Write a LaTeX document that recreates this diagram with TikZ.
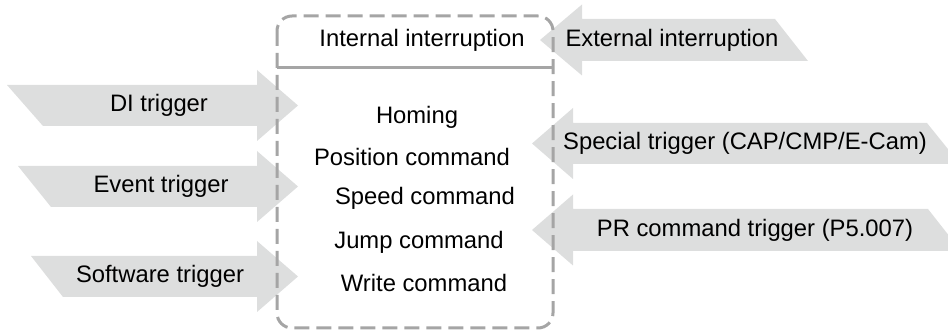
\documentclass[tikz,border=0pt]{standalone}
\usepackage{fontspec}
\setmainfont{Liberation Sans}
\usepackage{tikz}
\usetikzlibrary{positioning}

\definecolor{blockgray}{RGB}{221,222,222}
\definecolor{framegray}{RGB}{165,165,165}

\begin{document}
\begin{tikzpicture}[
  x=0.5pt, y=-0.5pt,
  font=\fontsize{11.9}{14}\selectfont,
  label/.style={inner sep=0pt, anchor=center},
  block/.style={fill=blockgray},
  frame/.style={draw=framegray, line width=1.5pt, dash pattern=on 7.5pt off 3.5pt, rounded corners=7.5pt},
  divider/.style={draw=framegray, line width=1.5pt}
]
\useasboundingbox (0,0) rectangle (948,331);
\clip (0,0) rectangle (948,331);

% triggers coming in from the left
\fill[block] (7,85) -- (257,85) -- (257,70) -- (298,105.5) -- (257,141) -- (257,126) -- (43,126) -- cycle;
\fill[block] (18,166) -- (257,166) -- (257,151) -- (298,186.5) -- (257,222) -- (257,207) -- (51,207) -- cycle;
\fill[block] (31,256) -- (257,256) -- (257,241) -- (298,276.5) -- (257,312) -- (257,297) -- (63,297) -- cycle;
\node[label] (di) at (159,105.5) {DI trigger};
\node[label] (event) at (161,186.5) {Event trigger};
\node[label] (software) at (160,276.5) {Software trigger};

% triggers coming in from the right
\fill[block] (775,19) -- (582,19) -- (582,4.5) -- (540,40) -- (582,75.5) -- (582,61) -- (808,61) -- cycle;
\fill[block] (927,123) -- (573,123) -- (573,108) -- (532,143.5) -- (573,179) -- (573,164) -- (960,164) -- cycle;
\fill[block] (928,209) -- (573,209) -- (573,194.5) -- (532,230) -- (573,265.5) -- (573,251) -- (961,251) -- cycle;
\node[label] (external) at (672,40) {External interruption};
\node[label] (special) at (745,143.5) {Special trigger (CAP/CMP/E-Cam)};
\node[label] (prcmd) at (755,230) {PR command trigger (P5.007)};

% PR command box
\draw[frame] (277,16) rectangle (553,328);
\draw[divider] (277,68) -- (553,68);
\node[label] (internal) at (422,40) {Internal interruption};
\node[label] (homing) at (417,117) {Homing};
\node[label] (position) at (412,157) {Position command};
\node[label] (speed) at (425,198) {Speed command};
\node[label] (jump) at (419,242) {Jump command};
\node[label] (write) at (424,283) {Write command};
\end{tikzpicture}
\end{document}
